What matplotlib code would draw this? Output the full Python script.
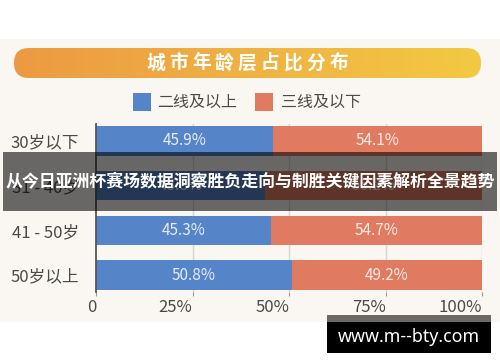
import numpy as np
import matplotlib
matplotlib.use("Agg")
import matplotlib.pyplot as plt
from matplotlib.patches import Rectangle, FancyBboxPatch

plt.rcParams['font.family'] = ['Noto Sans CJK SC', 'DejaVu Sans']

categories = ["30岁以下", "31 - 40岁", "41 - 50岁", "50岁以上"]
tier_high = [45.9, 43.8, 45.3, 50.8]
tier_low = [54.1, 56.2, 54.7, 49.2]
series_names = ["二线及以上", "三线及以下"]
tick_vals = [0, 25, 50, 75, 100]
tick_labels = ["0", "25%", "50%", "75%", "100%"]
title = "城市年龄层占比分布"
overlay_text = "从今日亚洲杯赛场数据洞察胜负走向与制胜关键因素解析全景趋势"
watermark = "www.m--bty.com"

BLUE = "#5584c8"
SALMON = "#e07b61"
CREAM = "#faf6f1"
W, H = 500, 362

fig = plt.figure(figsize=(5, 3.62), dpi=100)
fig.patch.set_facecolor("white")

def fx(x):
    return x / W

def fy(y):
    return 1 - y / H

# cream panel
fig.patches.append(Rectangle((0, fy(322)), 1, (322 - 39) / H, transform=fig.transFigure,
                             facecolor=CREAM, edgecolor="none", zorder=-5))

# title banner with gradient
axb = fig.add_axes([fx(14), fy(78), 467 / W, 30 / H])
axb.axis("off")
c1 = np.array([236, 154, 66]) / 255
c2 = np.array([243, 201, 66]) / 255
t = np.linspace(0, 1, 256)
grad = (c1[None, :] * (1 - t[:, None]) + c2[None, :] * t[:, None])[None, :, :]
im = axb.imshow(grad, extent=[0, 467, 0, 30], aspect="auto")
axb.set_xlim(0, 467)
axb.set_ylim(0, 30)
clip = FancyBboxPatch((0, 0), 467, 30, boxstyle="round,pad=0,rounding_size=15",
                      transform=axb.transData, facecolor="none", edgecolor="none")
axb.add_patch(clip)
im.set_clip_path(clip)
for i, ch in enumerate(title):
    axb.text(141.5 + i * 22.9, 15, ch, color="white", fontsize=13.5, fontweight="bold",
             ha="center", va="center")

# legend
fig.patches.append(Rectangle((fx(133), fy(111)), 18 / W, 18 / H, transform=fig.transFigure,
                             facecolor=BLUE, edgecolor="none"))
fig.text(fx(157), fy(102), series_names[0], fontsize=11.5, color="#4a4a4a", va="center", ha="left")
fig.patches.append(Rectangle((fx(255), fy(111)), 18 / W, 18 / H, transform=fig.transFigure,
                             facecolor=SALMON, edgecolor="none"))
fig.text(fx(281), fy(102), series_names[1], fontsize=11.5, color="#4a4a4a", va="center", ha="left")

# main axes
ax = fig.add_axes([fx(96), fy(292), (482 - 96) / W, (292 - 124) / H])
ax.set_facecolor("none")
y = np.arange(len(categories))
bh = 0.66
ax.barh(y, tier_high, height=bh, color=BLUE, zorder=2)
ax.barh(y, tier_low, left=tier_high, height=bh, color=SALMON, zorder=2)
for i in range(len(categories)):
    ax.text(tier_high[i] / 2, y[i], f"{tier_high[i]:.1f}%", color="white", alpha=0.85,
            fontsize=11, ha="center", va="center", zorder=3)
    ax.text(tier_high[i] + tier_low[i] / 2, y[i], f"{tier_low[i]:.1f}%", color="white", alpha=0.85,
            fontsize=11, ha="center", va="center", zorder=3)
ax.set_xlim(0, 100)
ax.set_ylim(len(categories) - 1 + 0.38, -0.38)
ax.set_yticks(y)
ax.set_yticklabels(categories, fontsize=12, color="#4a4a4a")
ax.tick_params(axis="y", length=0, pad=12)
ax.set_xticks(tick_vals)
ax.set_xticklabels(tick_labels, fontsize=12, color="#4a4a4a")
for lab in ax.get_xticklabels():
    lab.set_horizontalalignment("right")
ax.tick_params(axis="x", length=3, color="#999999", pad=2)
for v in tick_vals[1:]:
    ax.axvline(v, color="#d6d6d6", lw=1, zorder=1)
for s in ["top", "right", "bottom"]:
    ax.spines[s].set_visible(False)
ax.spines["left"].set_color("#555555")
ax.spines["left"].set_linewidth(1.3)
ax.spines["left"].set_zorder(4)

# overlay banner
fig.patches.append(Rectangle((fx(3), fy(211)), 494 / W, 59 / H, transform=fig.transFigure,
                             facecolor="black", alpha=0.58, edgecolor="none", zorder=10))
fig.text(0.5, fy(181.5), overlay_text, color="white", fontsize=12.2, fontweight="bold",
         ha="center", va="center", zorder=11)

# watermark
fig.patches.append(Rectangle((fx(327), fy(322)), 164 / W, 7 / H, transform=fig.transFigure,
                             facecolor="#6b6966", edgecolor="none", zorder=10))
fig.patches.append(Rectangle((fx(327), fy(353)), 164 / W, 31 / H, transform=fig.transFigure,
                             facecolor="black", edgecolor="none", zorder=10))
fig.text(fx(409), fy(337), watermark, color="white", fontsize=12.8, fontweight="bold",
         family=["Noto Sans", "DejaVu Sans"], ha="center", va="center", zorder=11)

fig.savefig("out.png", dpi=100)
